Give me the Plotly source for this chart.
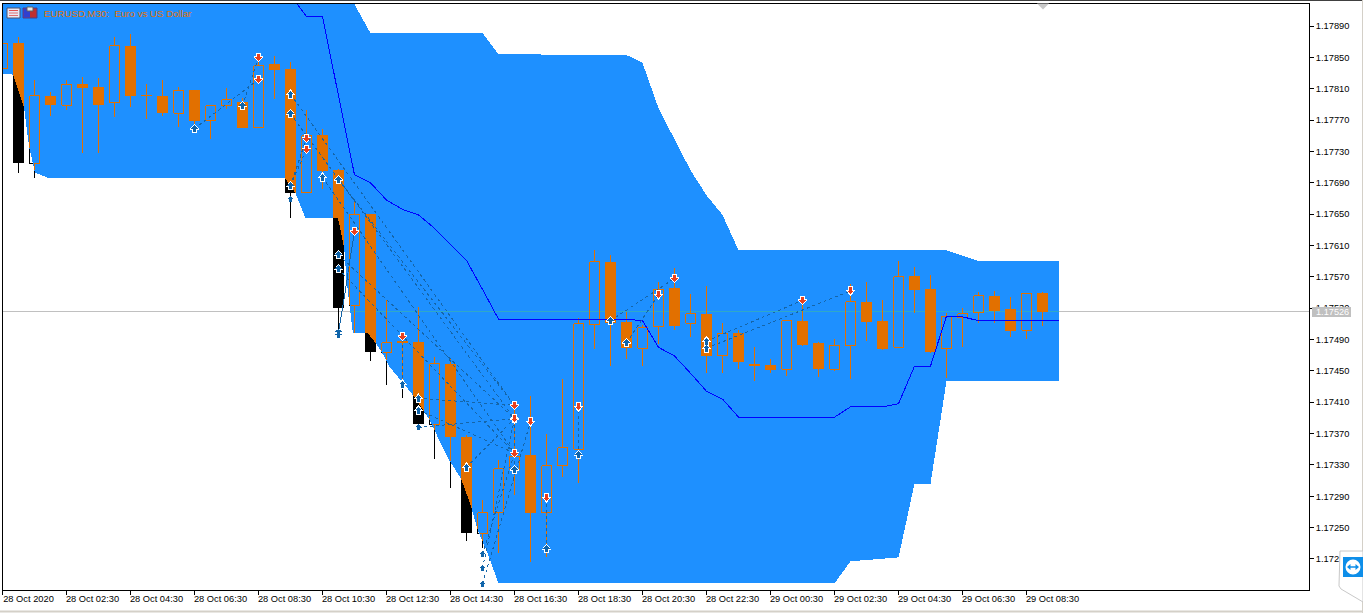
import numpy as np
import plotly.graph_objects as go

# ---------- data ----------
candle_open = [1.17836,1.17868,1.17715,1.17801,1.17789,1.17816,1.17812,1.17792,1.17865,1.17802,1.17801,1.17779,1.17808,1.17770,1.17788,1.17793,1.17760,1.17842,1.17835,1.17677,1.17751,1.17706,1.17533,1.17650,1.17474,1.17486,1.17487,1.17382,1.17459,1.17366,1.17243,1.17269,1.17324,1.17343,1.17269,1.17329,1.17350,1.17509,1.17589,1.17512,1.17479,1.17506,1.17556,1.17511,1.17523,1.17469,1.17498,1.17459,1.17458,1.17452,1.17514,1.17486,1.17452,1.17482,1.17538,1.17514,1.17480,1.17571,1.17554,1.17478,1.17518,1.17524,1.17546,1.17529,1.17502,1.17549]
candle_high = [1.17872,1.17876,1.17821,1.17806,1.17821,1.17825,1.17824,1.17876,1.17880,1.17816,1.17821,1.17812,1.17808,1.17788,1.17811,1.17798,1.17847,1.17852,1.17844,1.17783,1.17759,1.17708,1.17668,1.17650,1.17540,1.17496,1.17532,1.17468,1.17466,1.17368,1.17285,1.17336,1.17403,1.17418,1.17370,1.17440,1.17518,1.17604,1.17598,1.17525,1.17509,1.17563,1.17581,1.17548,1.17558,1.17511,1.17502,1.17480,1.17465,1.17514,1.17537,1.17487,1.17491,1.17561,1.17563,1.17540,1.17590,1.17583,1.17572,1.17524,1.17530,1.17551,1.17552,1.17544,1.17549,1.17551]
candle_low = [1.17831,1.17703,1.17696,1.17775,1.17783,1.17728,1.17728,1.17774,1.17787,1.17771,1.17775,1.17761,1.17764,1.17746,1.17784,1.17760,1.17760,1.17797,1.17645,1.17677,1.17682,1.17498,1.17498,1.17463,1.17432,1.17415,1.17382,1.17338,1.17301,1.17233,1.17224,1.17218,1.17292,1.17206,1.17212,1.17315,1.17307,1.17478,1.17456,1.17465,1.17456,1.17484,1.17502,1.17493,1.17447,1.17447,1.17452,1.17437,1.17447,1.17444,1.17482,1.17442,1.17450,1.17440,1.17488,1.17477,1.17480,1.17524,1.17473,1.17441,1.17480,1.17511,1.17511,1.17493,1.17491,1.17507]
candle_close = [1.17868,1.17715,1.17801,1.17789,1.17816,1.17811,1.17789,1.17865,1.17801,1.17801,1.17779,1.17808,1.17769,1.17788,1.17796,1.17760,1.17839,1.17834,1.17677,1.17750,1.17705,1.17530,1.17650,1.17474,1.17486,1.17488,1.17382,1.17459,1.17366,1.17243,1.17269,1.17325,1.17341,1.17269,1.17329,1.17352,1.17510,1.17589,1.17511,1.17479,1.17505,1.17554,1.17507,1.17523,1.17469,1.17498,1.17461,1.17456,1.17451,1.17514,1.17483,1.17452,1.17483,1.17538,1.17512,1.17478,1.17570,1.17553,1.17474,1.17520,1.17523,1.17546,1.17526,1.17501,1.17549,1.17525]

band_upper_x = [0,21.8,23,30,31,39,40,41,43,44,45,46,59,60,61,66]
band_upper_p = [1.17925,1.17925,1.17881,1.17881,1.17854,1.17853,1.17843,1.17785,1.17706,1.17674,1.17649,1.17604,1.17604,1.17597,1.17590,1.17590]
band_lower_x = [0,0.66,1.34,1.66,2.03,2.9,17.7,18.3,18.94,21.0,21.37,21.5,21.9,22.9,23.3,23.7,24.2,25.66,26.7,27.8,28.7,29.3,29.7,30.3,31,52,53,56,57,58,59,66]
band_lower_p = [1.17829,1.17828,1.17787,1.17736,1.17703,1.17696,1.17696,1.17677,1.17645,1.17645,1.17604,1.17566,1.17498,1.17498,1.17486,1.17474,1.17455,1.17419,1.17387,1.17340,1.17311,1.17276,1.17247,1.17218,1.17179,1.17179,1.17207,1.17212,1.17306,1.17306,1.17437,1.17437]

mid_line_x = [18,19,20,21,22,23,24,25,26,27,28,29,30,31,39,40,41,42,43,44,45,46,52,53,55,56,57,58,59,60,61,66]
mid_line_p = [1.17930,1.17902,1.17902,1.17803,1.17700,1.17690,1.17668,1.17656,1.17649,1.17632,1.17611,1.17591,1.17554,1.17516,1.17516,1.17514,1.17480,1.17469,1.17447,1.17424,1.17414,1.17391,1.17391,1.17404,1.17404,1.17408,1.17456,1.17456,1.17520,1.17519,1.17514,1.17514]

buy_x = [12,15,18,18,18,20,21,21,21,25,26,26,29,32,32,34,36,38,39,44,44]
buy_p = [1.17759,1.17788,1.17803,1.17778,1.17686,1.17697,1.17694,1.17598,1.17580,1.17433,1.17415,1.17400,1.17327,1.17324,1.17389,1.17223,1.17343,1.17514,1.17486,1.17488,1.17479]
plain_buy_x = [18,21,21,26,30,30,30]
plain_buy_p = [1.17669,1.17500,1.17496,1.17378,1.17216,1.17198,1.17178]
sell_x = [16,16,19,19,22,25,32,32,32,33,34,36,41,42,50,53]
sell_p = [1.17850,1.17822,1.17747,1.17733,1.17628,1.17494,1.17406,1.17389,1.17345,1.17385,1.17288,1.17404,1.17547,1.17568,1.17540,1.17552]

trade_open_x = [12,15,18,18,18,18,20,21,21,21,21,21,25,26,26,26,29,30,30,30,32,34,36,38,39,44,44]
trade_open_p = [1.17759,1.17788,1.17686,1.17686,1.17803,1.17778,1.17697,1.17694,1.17598,1.17580,1.17500,1.17496,1.17433,1.17415,1.17378,1.17400,1.17327,1.17216,1.17198,1.17178,1.17324,1.17223,1.17343,1.17514,1.17486,1.17488,1.17479]
trade_close_x = [16,16,19,19,32,32,32,32,32,32,22,22,25,32,32,32,32,32,32,33,32,34,36,42,41,50,53]
trade_close_p = [1.17822,1.17850,1.17747,1.17733,1.17406,1.17389,1.17345,1.17406,1.17389,1.17345,1.17628,1.17628,1.17494,1.17406,1.17389,1.17345,1.17389,1.17345,1.17389,1.17385,1.17389,1.17288,1.17404,1.17568,1.17547,1.17540,1.17552]

current_price = 1.17526
current_label = "1.17526"
x_tick_bars = [0,4,8,12,16,20,24,28,32,36,40,44,48,52,56,60,64]
x_tick_text = ["28 Oct 2020","28 Oct 02:30","28 Oct 04:30","28 Oct 06:30","28 Oct 08:30","28 Oct 10:30","28 Oct 12:30","28 Oct 14:30","28 Oct 16:30","28 Oct 18:30","28 Oct 20:30","28 Oct 22:30","29 Oct 00:30","29 Oct 02:30","29 Oct 04:30","29 Oct 06:30","29 Oct 08:30"]
y_tick_vals = [1.17890,1.17850,1.17810,1.17770,1.17730,1.17690,1.17650,1.17610,1.17570,1.17530,1.17490,1.17450,1.17410,1.17370,1.17330,1.17290,1.17250,1.17210]
y_tick_text = ["1.17890","1.17850","1.17810","1.17770","1.17730","1.17690","1.17650","1.17610","1.17570","1.17530","1.17490","1.17450","1.17410","1.17370","1.17330","1.17290","1.17250","1.17210"]
title_text = "EURUSD,M30:  Euro vs US Dollar"

# ---------- styling / scale ----------
ORANGE = "#E27000"
BAND = "#1E90FF"
X_RANGE = [-0.03125, 81.656]
Y_RANGE = [1.171704, 1.179181]
PX_X = 1 / 16.0            # bars per pixel
PX_Y = 1.2759e-5           # price per pixel
W, H = 1363, 613
L, R, T, B = 2.0, 1309.0, 4.0, 590.0


def low_at(x):
    return np.interp(x, band_lower_x, band_lower_p)


def up_at(x):
    return np.interp(x, band_upper_x, band_upper_p)


def clip_path(px, py):
    """Keep the parts of a straight run inside the band, None elsewhere."""
    ox, oy = [], []
    for (x0, y0, x1, y1) in zip(px[:-1], py[:-1], px[1:], py[1:]):
        n = max(2, int(max(abs(x1 - x0) / PX_X, abs(y1 - y0) / PX_Y)) + 1)
        xs = np.linspace(x0, x1, n)
        ys = np.linspace(y0, y1, n)
        inside = (ys >= low_at(xs)) & (ys <= up_at(xs)) & (xs <= band_upper_x[-1])
        run = np.flatnonzero(inside)
        if len(run):
            # split on gaps, keep only the two ends of each kept run
            parts = np.split(run, np.flatnonzero(np.diff(run) > 1) + 1)
            for p in parts:
                ox += [float(xs[p[0]]), float(xs[p[-1]]), None]
                oy += [float(ys[p[0]]), float(ys[p[-1]]), None]
    return ox, oy


black_wx, black_wy, black_hx, black_hy, black_fx, black_fy = [], [], [], [], [], []
or_wx, or_wy, or_hx, or_hy, or_fx, or_fy = [], [], [], [], [], []
HW_LINE = 5 * PX_X
HW_FILL = 5.5 * PX_X

for k, (o, h, l, c) in enumerate(zip(candle_open, candle_high, candle_low, candle_close)):
    top, bot = max(o, c), min(o, c)
    bear = c < o
    black_wx += [k, k, None, k, k, None]
    black_wy += [h, top, None, bot, l, None]
    a, b = clip_path([k, k], [h, top]); or_wx += a; or_wy += b
    a, b = clip_path([k, k], [bot, l]); or_wx += a; or_wy += b
    if bear:
        black_fx += [k - HW_FILL, k + HW_FILL, k + HW_FILL, k - HW_FILL, k - HW_FILL, None]
        black_fy += [top, top, bot, bot, top, None]
        xs = np.linspace(k - HW_FILL, k + HW_FILL, 12)
        lows = np.minimum(np.maximum(bot, low_at(xs)), top)
        or_fx += list(map(float, xs)) + list(map(float, xs[::-1])) + [float(xs[0]), None]
        or_fy += [top] * 12 + list(map(float, lows[::-1])) + [top, None]
    else:
        rx = [k - HW_LINE, k + HW_LINE, k + HW_LINE, k - HW_LINE, k - HW_LINE]
        ry = [top, top, bot, bot, top]
        black_hx += rx + [None]
        black_hy += ry + [None]
        a, b = clip_path(rx, ry); or_hx += a; or_hy += b


def arrows(xs, ys, w, tip, shoulder, stem, foot, direction):
    """Arrow glyph polygons around each value, sized in pixels."""
    ox, oy = [], []
    for x, y in zip(xs, ys):
        dx = [0, w, stem, stem, -stem, -stem, -w, 0]
        dy = [tip, shoulder, shoulder, -foot, -foot, shoulder, shoulder, tip]
        ox += [x + d * PX_X for d in dx] + [None]
        oy += [y + direction * d * PX_Y for d in dy] + [None]
    return ox, oy


fig = go.Figure()


def add(x, y, **kw):
    fig.add_trace(go.Scatter(x=x, y=y, hoverinfo="skip", showlegend=False, **kw))


def add_arrow(xs, ys, color, direction):
    a, b = arrows(xs, ys, 5, 5, -1, 2.5, 4.5, direction)
    add(a, b, mode="lines", fill="toself", fillcolor="white", line=dict(width=0))
    a, b = arrows(xs, ys, 3.5, 3.5, 0, 1.5, 3.5, direction)
    add(a, b, mode="lines", fill="toself", fillcolor=color, line=dict(width=0))


# candles in black, seen only where the band does not cover them
add([X_RANGE[0], X_RANGE[1]], [current_price, current_price], mode="lines", line=dict(color="#C0C0C0", width=1))
add(black_wx, black_wy, mode="lines", line=dict(color="black", width=1))
add(black_hx, black_hy, mode="lines", line=dict(color="black", width=1))
add(black_fx, black_fy, mode="lines", fill="toself", fillcolor="black", line=dict(width=0))
# band
band_x = list(band_upper_x) + list(band_lower_x[::-1])
band_y = list(band_upper_p) + list(band_lower_p[::-1])
add(band_x, band_y, mode="lines", fill="toself", fillcolor=BAND, line=dict(width=0))
# level line over the band
a, b = clip_path([0, 66], [current_price, current_price])
add(a, b, mode="lines", line=dict(color="#30A8C8", width=1))
# candles over the band
add(or_wx, or_wy, mode="lines", line=dict(color=ORANGE, width=1))
add(or_hx, or_hy, mode="lines", line=dict(color=ORANGE, width=1))
add(or_fx, or_fy, mode="lines", fill="toself", fillcolor=ORANGE, line=dict(width=0))
# indicator line
add(mid_line_x, mid_line_p, mode="lines", line=dict(color="#0000FF", width=1))
# trades
tx, ty = [], []
for x0, y0, x1, y1 in zip(trade_open_x, trade_open_p, trade_close_x, trade_close_p):
    tx += [x0, x1, None]
    ty += [y0, y1, None]
add(tx, ty, mode="lines", line=dict(color="#1565A8", width=1, dash="3px,3px"))
a, b = arrows(plain_buy_x, plain_buy_p, 3.5, 3, 0, 1.5, 3, 1)
add(a, b, mode="lines", fill="toself", fillcolor="#0F64AA", line=dict(width=0))
add_arrow(buy_x, buy_p, "#0F64AA", 1)
add_arrow(sell_x, sell_p, "#E8401E", -1)


def pxx(x):
    return (x - L) / (R - L)


def pxy(y):
    return (B - y) / (B - T)


def rect(x0, y0, x1, y1, fill, line=None, width=0):
    return dict(type="rect", xref="paper", yref="paper", x0=pxx(x0), x1=pxx(x1), y0=pxy(y0), y1=pxy(y1),
                fillcolor=fill, line=dict(color=line or fill, width=width), layer="above")


def hline(x0, x1, y, color, width=1):
    return dict(type="line", xref="paper", yref="paper", x0=pxx(x0), x1=pxx(x1), y0=pxy(y), y1=pxy(y),
                line=dict(color=color, width=width), layer="above")


def vline(x, y0, y1, color, width=1):
    return dict(type="line", xref="paper", yref="paper", x0=pxx(x), x1=pxx(x), y0=pxy(y0), y1=pxy(y1),
                line=dict(color=color, width=width), layer="above")


def poly(points, fill, line=None, width=0):
    d = "M" + "L".join(f"{pxx(x):.5f},{pxy(y):.5f}" for x, y in points) + "Z"
    return dict(type="path", xref="paper", yref="paper", path=d, fillcolor=fill,
                line=dict(color=line or fill, width=width), layer="above")


shapes = [
    # window chrome
    hline(0, W, 0.5, "#404040", 1),
    hline(0, W, 611.5, "#D4D0C8", 2),
    vline(1362.5, 0, 613, "#D4D0C8"),
    # left edge of the plot frame
    vline(2.5, 3.5, 590.5, "black"),
    # price tag
    rect(1312, 307, 1351, 317, "#C0C0C0"),
    # small grey marker on the top edge
    poly([(1037, 3.5), (1049, 3.5), (1043, 9.5)], "#C8C8C8"),
    # chart icons
    rect(7, 8, 20, 18, "#E8E8F4", "#505068", 1),
    rect(9, 10, 18, 11, "#E05050"),
    rect(9, 12.5, 18, 13.5, "#E07070"),
    rect(9, 15, 18, 16, "#E07070"),
    rect(23, 8, 37, 18, "#C03030", "#404090", 1),
    rect(23.5, 8.5, 30, 17.5, "#3040D0"),
    rect(27, 7, 33, 11, "#E8E8E8", "#606060", 1),
    # remote-desktop widget
    poly([(1340, 551), (1363, 551), (1363, 602), (1341, 589), (1339, 586)], "white", "#C8C8C8", 1),
    rect(1343, 557, 1363, 577, "#0E8EE9"),
    dict(type="circle", xref="paper", yref="paper", x0=pxx(1345.5), x1=pxx(1360.5), y0=pxy(574.5), y1=pxy(559.5),
         fillcolor="white", line=dict(color="white", width=0), layer="above"),
    hline(1348, 1358, 567, "#0E8EE9", 1.5),
    poly([(1347, 567), (1350.5, 564), (1350.5, 570)], "#0E8EE9"),
    poly([(1359, 567), (1355.5, 564), (1355.5, 570)], "#0E8EE9"),
]

annotations = [
    dict(text=title_text, xref="paper", yref="paper", x=pxx(41.5), y=pxy(13), xanchor="left", yanchor="middle",
         showarrow=False, font=dict(family="Liberation Sans", size=9.7, color=ORANGE)),
    dict(text=current_label, xref="paper", yref="paper", x=pxx(1314), y=pxy(312), xanchor="left", yanchor="middle",
         showarrow=False, font=dict(family="Liberation Sans", size=9.2, color="white")),
]

axis_font = dict(family="Liberation Sans", size=9.3, color="black")
fig.update_layout(
    width=W, height=H, autosize=False, paper_bgcolor="white", plot_bgcolor="white",
    margin=dict(l=L, r=W - R, t=T, b=H - B, pad=0), showlegend=False, hovermode=False,
    shapes=shapes, annotations=annotations,
    xaxis=dict(range=X_RANGE, tickmode="array", tickvals=x_tick_bars, ticktext=x_tick_text, ticks="outside",
               ticklen=4, tickwidth=1, tickcolor="black", showgrid=False, zeroline=False, showline=True,
               linecolor="black", linewidth=1, mirror=True, tickfont=axis_font, ticklabelshift=26, tickangle=0,
               ticklabelstandoff=-4),
    yaxis=dict(range=Y_RANGE, side="right", tickmode="array", tickvals=y_tick_vals, ticktext=y_tick_text,
               ticks="outside", ticklen=4, tickwidth=1, tickcolor="black", showgrid=False, zeroline=False,
               showline=True, linecolor="black", linewidth=1, mirror=False, tickfont=axis_font),
)

crisp = ("var s=document.createElement('style');"
         "s.textContent='.scatterlayer path{shape-rendering:crispEdges}';"
         "document.head.appendChild(s);"
         "document.body.style.margin='0';document.body.style.overflow='hidden';")
fig.write_html("out.html", config=dict(displayModeBar=False), post_script=crisp)
